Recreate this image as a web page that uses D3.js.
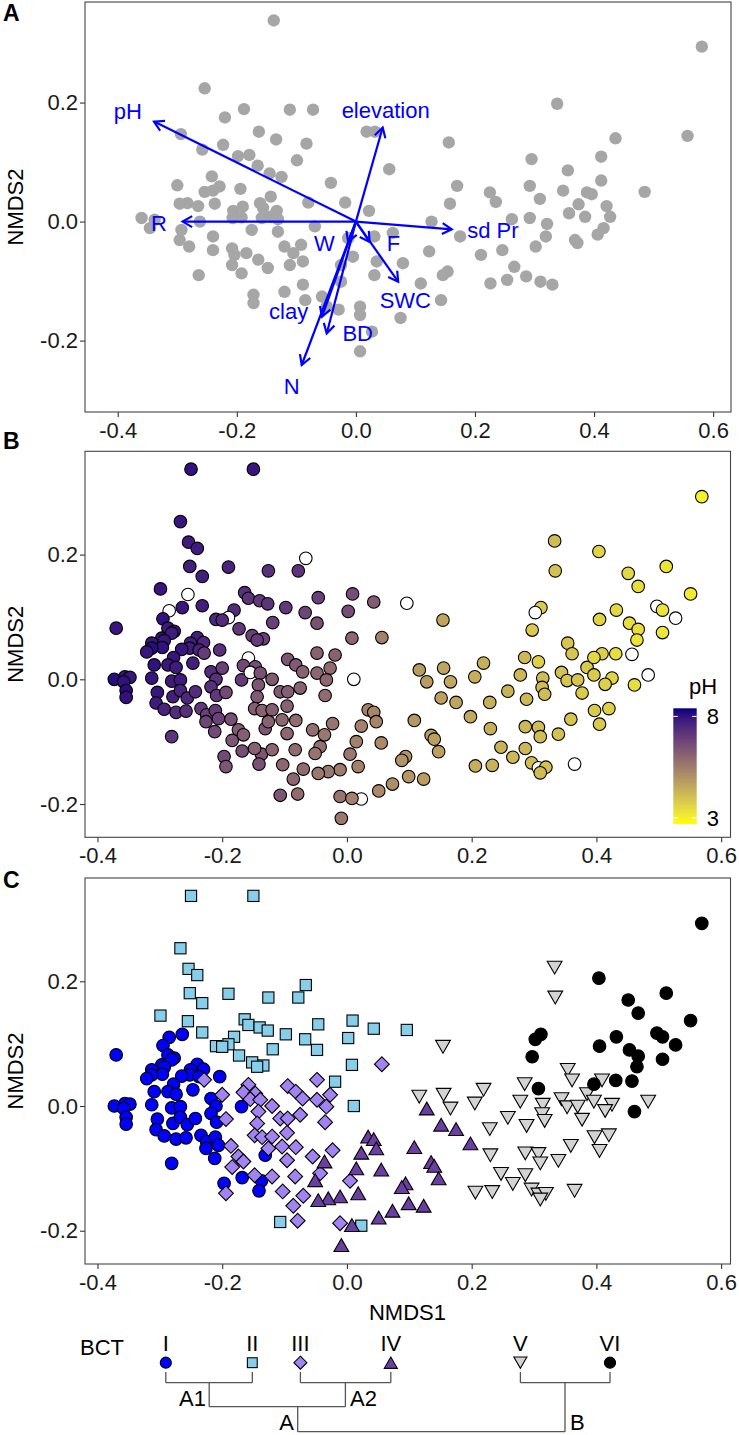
<!DOCTYPE html>
<html><head><meta charset="utf-8">
<script src="https://cdn.jsdelivr.net/npm/d3@7"></script>
<style>
body{margin:0;background:#fff;}
svg text{font-family:"Liberation Sans",Arial,Helvetica,sans-serif;}
</style>
</head><body>
<svg id="c" width="739" height="1435"></svg>
<script>
// ---------------- DATA ----------------
// Panel A: sites used for the environmental fitting (NMDS1, NMDS2)
const envfitSites = [
[-0.138,0.338],[-0.254,0.224],[-0.188,0.189],[-0.111,0.188],[-0.072,0.188],[-0.220,0.175],
[0.018,0.151],[0.032,0.151],[-0.294,0.147],[-0.163,0.151],[-0.134,0.138],[-0.083,0.131],
[-0.223,0.129],[-0.258,0.121],[-0.198,0.110],[-0.179,0.112],[-0.099,0.103],[-0.165,0.094],
[-0.145,0.081],[-0.125,0.075],[-0.242,0.076],[-0.300,0.061],[-0.229,0.059],[-0.194,0.055],
[-0.254,0.050],[-0.240,0.052],[-0.042,0.065],[-0.143,0.042],[-0.161,0.031],[-0.080,0.032],
[-0.018,0.032],[-0.296,0.030],[-0.283,0.031],[-0.265,0.026],[-0.237,0.030],[-0.206,0.018],
[-0.190,0.025],[-0.156,0.023],[-0.133,0.018],[-0.207,0.006],[-0.192,0.007],[-0.158,0.006],
[-0.143,0.008],[-0.131,0.004],[-0.360,0.006],[-0.338,0.003],[-0.346,-0.011],[-0.293,-0.014],
[-0.262,0.000],[-0.175,-0.014],[-0.131,-0.017],[-0.069,-0.008],[-0.240,-0.025],
[0.581,0.294],[0.338,0.198],[0.557,0.144],[0.436,0.140],[0.156,0.133],[0.412,0.109],
[0.295,0.105],[0.056,0.088],[0.356,0.086],[0.412,0.069],[0.170,0.060],[0.292,0.060],
[0.485,0.050],[0.348,0.052],[0.388,0.049],[0.396,0.046],[0.225,0.049],[0.309,0.038],
[0.235,0.033],[0.158,0.030],[0.374,0.029],[0.421,0.026],[0.022,0.018],[0.358,0.014],
[0.385,0.008],[0.427,0.008],[0.127,0.000],[0.262,0.004],[0.292,0.006],[0.321,-0.004],
[0.416,-0.011],[0.062,-0.019],[0.175,-0.025],[0.319,-0.025],[0.368,-0.031],[0.406,-0.022],
[-0.296,-0.031],[-0.280,-0.042],[-0.240,-0.048],[-0.208,-0.045],[-0.204,-0.056],[-0.184,-0.053],
[-0.164,-0.064],[-0.208,-0.073],[-0.192,-0.087],[-0.148,-0.078],[-0.120,-0.042],[-0.105,-0.053],
[-0.092,-0.039],[-0.111,-0.073],[-0.089,-0.067],[-0.264,-0.090],[-0.013,-0.028],[-0.005,-0.059],
[-0.025,-0.073],[0.031,-0.025],[0.035,-0.067],[0.079,-0.070],[0.031,-0.090],[-0.025,-0.101],
[-0.089,-0.106],[-0.120,-0.118],[-0.172,-0.123],[-0.172,-0.137],[-0.085,-0.132],[-0.057,-0.126],
[-0.049,-0.143],[-0.029,-0.148],[0.007,-0.143],[0.007,-0.157],[0.027,-0.185],[0.075,-0.162],
[0.123,-0.050],[0.109,-0.104],[0.143,-0.132],[0.146,-0.090],[0.154,-0.084],[0.007,-0.218],
[0.210,-0.056],[0.226,-0.104],[0.246,-0.048],[0.254,-0.098],[0.266,-0.076],[0.286,-0.092],
[0.302,-0.042],[0.310,-0.101],[0.330,-0.106],[0.372,-0.036]
];

// Panels B and C: all sites by BCT group: [NMDS1, NMDS2, soil pH] (null = pH missing)
const bctI = [
[-0.370,0.082,7.9],[-0.285,0.110,null],[-0.264,0.115,7.9],[-0.295,0.097,8.0],[-0.287,0.082,7.8],
[-0.277,0.077,7.9],[-0.240,0.067,7.7],[-0.297,0.066,8.0],[-0.313,0.058,7.9],[-0.251,0.058,7.7],
[-0.230,0.059,7.5],[-0.281,0.074,7.8],[-0.293,0.062,7.9],[-0.296,0.051,8.0],[-0.313,0.050,8.1],
[-0.321,0.044,7.9],[-0.252,0.050,7.8],[-0.265,0.048,7.9],[-0.237,0.047,7.6],[-0.278,0.035,7.9],
[-0.204,0.047,7.3],[-0.247,0.026,7.7],[-0.309,0.023,8.0],[-0.287,0.023,7.9],[-0.274,0.019,7.8],
[-0.373,0.000,8.1],[-0.356,0.004,8.0],[-0.348,0.003,7.9],[-0.358,-0.004,8.0],[-0.354,-0.018,8.1],
[-0.354,-0.029,8.0],[-0.313,0.002,7.9],[-0.281,-0.003,7.8],[-0.267,-0.001,7.8],[-0.304,-0.021,7.9],
[-0.279,-0.028,7.7],[-0.267,-0.018,7.6],[-0.256,-0.030,7.5],[-0.243,-0.020,7.4],[-0.306,-0.038,7.8],
[-0.293,-0.048,7.6],[-0.274,-0.053,7.4],[-0.258,-0.051,7.3],[-0.234,-0.047,7.1],[-0.225,-0.057,6.9],
[-0.211,-0.050,7.0],[-0.226,-0.068,6.8],[-0.206,-0.063,6.9],[-0.212,-0.084,6.7],[-0.281,-0.092,7.2],
[-0.218,0.012,7.4],[-0.210,0.000,7.3],[-0.218,-0.012,7.3],[-0.209,-0.026,7.1],[-0.169,-0.001,7.0],
[-0.131,-0.079,6.4],[-0.168,-0.115,6.6],[-0.137,-0.120,6.4],[-0.141,-0.136,6.5],[-0.197,-0.124,6.7]
];
const bctII = [
[-0.250,0.337,8.0],[-0.150,0.337,7.9],[-0.267,0.253,7.9],[-0.254,0.220,7.8],[-0.240,0.210,7.8],
[-0.252,0.181,7.7],[-0.190,0.180,7.6],[-0.126,0.174,7.3],[-0.232,0.165,7.7],[-0.299,0.145,7.9],
[-0.255,0.136,null],[-0.232,0.118,7.7],[-0.164,0.139,7.3],[-0.158,0.130,7.2],[-0.140,0.126,7.1],
[-0.127,0.121,7.2],[-0.181,0.111,7.4],[-0.190,0.099,null],[-0.210,0.096,7.5],[-0.200,0.095,7.4],
[-0.173,0.081,7.1],[-0.119,0.091,6.9],[-0.152,0.070,6.9],[-0.134,0.065,6.9],[-0.144,0.063,7.0],
[-0.066,0.194,null],[-0.078,0.174,7.2],[0.009,0.137,6.6],[-0.046,0.131,6.9],[0.043,0.124,6.3],
[0.096,0.122,null],[-0.098,0.115,7.1],[-0.067,0.107,6.8],[0.002,0.109,6.6],[-0.048,0.090,6.5],
[0.008,0.066,6.0],[-0.019,0.039,6.1],[0.011,0.000,null],[-0.107,-0.186,6.4],[0.023,-0.192,null]
];
const bctIII = [
[-0.200,0.018,6.9],[-0.194,-0.021,6.7],[-0.158,0.034,null],[-0.166,0.022,6.7],[-0.147,0.020,6.6],
[-0.155,0.011,null],[-0.139,0.010,6.5],[-0.120,0.000,6.3],[-0.142,-0.009,6.4],[-0.144,-0.028,6.3],
[-0.148,-0.047,6.2],[-0.136,-0.050,6.1],[-0.120,-0.049,6.2],[-0.126,-0.068,6.1],[-0.186,-0.064,6.5],
[-0.174,-0.081,6.3],[-0.166,-0.089,6.2],[-0.184,-0.098,6.4],[-0.148,-0.111,6.1],[-0.120,-0.113,6.0],
[-0.194,-0.140,6.4],[-0.229,0.042,7.0],[0.056,0.067,5.4],[-0.048,0.042,6.1],[-0.095,0.032,6.4],
[-0.082,0.023,6.3],[-0.071,0.012,6.1],[-0.048,0.010,6.0],[-0.027,0.018,5.9],[-0.033,-0.001,6.0],
[-0.075,-0.014,6.1],[-0.107,-0.020,6.3],[-0.095,-0.020,6.2],[-0.035,-0.026,5.9],[-0.096,-0.043,6.1],
[-0.104,-0.065,6.0],[-0.082,-0.066,5.9],[-0.096,-0.087,6.0],[-0.055,-0.081,5.8],[-0.023,-0.071,5.7],
[-0.083,-0.113,5.9],[-0.103,-0.137,6.0],[-0.070,-0.144,5.9],[-0.086,-0.160,6.0],[-0.079,-0.184,5.9],
[-0.011,-0.188,5.7],[0.005,-0.120,5.6],[-0.043,-0.108,5.8]
];
const bctIV = [
[0.128,-0.004,4.8],[0.151,-0.030,4.7],[0.175,-0.037,4.6],[0.034,-0.049,5.4],[0.043,-0.053,5.3],
[0.047,-0.068,5.3],[0.023,-0.075,5.4],[0.108,-0.066,4.9],[0.135,-0.090,4.8],[0.140,-0.096,4.7],
[0.147,-0.116,4.7],[-0.036,-0.089,5.6],[-0.051,-0.119,5.7],[0.015,-0.100,5.4],[0.055,-0.102,5.2],
[0.094,-0.124,5.0],[0.088,-0.130,5.0],[0.018,-0.140,5.4],[-0.011,-0.145,5.5],[-0.030,-0.148,5.6],
[-0.046,-0.151,5.6],[0.099,-0.156,4.9],[0.123,-0.160,4.8],[0.073,-0.168,5.1],[0.051,-0.179,5.2],
[0.008,-0.191,5.4],[-0.009,-0.223,5.6],[0.198,-0.060,4.5]
];
const bctV = [
[0.154,0.095,4.6],[0.116,0.015,4.8],[0.155,0.018,4.6],[0.166,-0.004,4.5],[0.333,0.222,4.1],
[0.334,0.174,4.0],[0.354,0.058,3.9],[0.361,0.041,3.9],[0.409,0.041,3.7],[0.219,0.026,4.4],
[0.285,0.035,4.2],[0.205,0.004,4.4],[0.278,0.007,4.2],[0.314,0.002,4.1],[0.344,0.011,4.0],
[0.385,0.019,3.8],[0.396,0.007,3.8],[0.353,-0.002,3.9],[0.370,-0.001,3.9],[0.425,0.002,3.6],
[0.414,-0.008,3.7],[0.483,0.007,null],[0.258,-0.019,4.3],[0.313,-0.013,4.1],[0.317,-0.024,4.1],
[0.377,-0.022,3.8],[0.288,-0.032,4.2],[0.229,-0.037,4.4],[0.397,-0.050,3.8],[0.420,-0.047,3.7],
[0.359,-0.064,3.9],[0.405,-0.072,3.8],[0.230,-0.079,4.4],[0.286,-0.076,4.2],[0.307,-0.077,4.1],
[0.310,-0.092,4.1],[0.339,-0.088,4.0],[0.247,-0.109,4.3],[0.286,-0.111,4.2],[0.266,-0.125,4.2],
[0.296,-0.134,4.1],[0.206,-0.139,4.4],[0.233,-0.138,4.3],[0.307,-0.142,null],[0.319,-0.141,4.0],
[0.365,-0.136,null],[0.310,-0.150,4.1]
];
const bctVI = [
[0.569,0.293,3.0],[0.404,0.205,3.6],[0.512,0.181,3.3],[0.451,0.170,3.5],[0.467,0.149,3.4],
[0.551,0.137,3.1],[0.311,0.115,3.8],[0.302,0.107,null],[0.432,0.111,3.5],[0.497,0.117,null],
[0.506,0.111,3.3],[0.527,0.098,null],[0.405,0.096,3.6],[0.453,0.090,3.4],[0.467,0.080,3.4],
[0.297,0.079,3.8],[0.506,0.075,3.2],[0.465,0.063,3.3],[0.307,0.028,3.7],[0.396,0.035,3.5],
[0.431,0.041,3.4],[0.457,0.040,null],[0.461,-0.009,3.4]
];
const groups = [bctI, bctII, bctIII, bctIV, bctV, bctVI];
const groupNames = ["I","II","III","IV","V","VI"];
const groupShapes = ["circle","square","diamond","up","down","circle"];
const groupFills = ["#0000ff","#87ceeb","#a283f2","#6b3fa1","#d3d3d3","#000000"];

// environmental fitting vectors (panel A)
const envNames = ["pH","R","elevation","sd Pr","W","F","SWC","clay","BD","N"];
const envX = [-0.339,-0.291,0.045,0.161,-0.013,0.023,0.071,-0.057,-0.049,-0.091];
const envY = [0.168,0.000,0.158,-0.013,-0.034,-0.034,-0.101,-0.160,-0.188,-0.241];
const envLabelX = [-0.383,-0.331,0.050,0.230,-0.053,0.063,0.083,-0.113,0.003,-0.108];
const envLabelY = [0.186,-0.002,0.188,-0.014,-0.036,-0.036,-0.132,-0.150,-0.188,-0.277];

const xTicks = [-0.4,-0.2,0,0.2,0.4,0.6];
const xTickLabels = ["-0.4","-0.2","0.0","0.2","0.4","0.6"];
const yTicks = [-0.2,0,0.2];
const yTickLabels = ["-0.2","0.0","0.2"];
const phLimits = [2.7, 8.4];
const phBreaks = [3, 8];

// ---------------- DRAWING ----------------
const svg = d3.select("#c");
const FONT = 22;
const allPts = groups.flatMap((g,gi)=>g.map(p=>({x:p[0],y:p[1],ph:p[2],g:gi})));

function makePanel(box, xd, yd, letter, letterY){
  const x = d3.scaleLinear().domain(xd).range([box.l, box.r]);
  const y = d3.scaleLinear().domain(yd).range([box.b, box.t]);
  const ax = svg.append("g").attr("transform",`translate(0,${box.b})`)
    .call(d3.axisBottom(x).tickValues(xTicks).tickFormat((d,i)=>xTickLabels[i]).tickSize(5).tickPadding(5));
  const ay = svg.append("g").attr("transform",`translate(${box.l},0)`)
    .call(d3.axisLeft(y).tickValues(yTicks).tickFormat((d,i)=>yTickLabels[i]).tickSize(5).tickPadding(2));
  [ax,ay].forEach(a=>{
    a.select(".domain").remove();
    a.selectAll("line").attr("stroke","#333").attr("stroke-width",1.1);
    a.selectAll("text").attr("font-size",FONT).attr("fill","#1a1a1a")
      .attr("font-family","Liberation Sans, Arial, sans-serif");
  });
  svg.append("text").attr("transform",`translate(23,${(box.t+box.b)/2}) rotate(-90)`)
    .attr("text-anchor","middle").attr("font-size",FONT).text("NMDS2");
  svg.append("text").attr("x",3).attr("y",letterY).attr("font-size",23)
    .attr("font-weight","bold").text(letter);
  const layer = svg.append("g");
  const border = ()=>svg.append("rect").attr("x",box.l).attr("y",box.t)
    .attr("width",box.r-box.l).attr("height",box.b-box.t)
    .attr("fill","none").attr("stroke","#444").attr("stroke-width",1.1);
  return {x,y,layer,border};
}

function drawShape(g, type, cx, cy, fill, k){
  k = k||1;
  const common = s=>s.attr("fill",fill).attr("stroke","#000").attr("stroke-width",1.1);
  if(type==="circle"){
    common(g.append("circle").attr("cx",cx).attr("cy",cy).attr("r",6.3*k));
  } else if(type==="square"){
    const h=5.6*k;
    common(g.append("rect").attr("x",cx-h).attr("y",cy-h).attr("width",2*h).attr("height",2*h));
  } else if(type==="diamond"){
    const h=7.4*k;
    common(g.append("path").attr("d",`M${cx},${cy-h}L${cx+h},${cy}L${cx},${cy+h}L${cx-h},${cy}Z`));
  } else if(type==="up"){
    const w=7.4*k, h=6.4*k;
    common(g.append("path").attr("d",`M${cx},${cy-h}L${cx+w},${cy+h}L${cx-w},${cy+h}Z`));
  } else {
    const w=7.4*k, h=6.4*k;
    common(g.append("path").attr("d",`M${cx},${cy+h}L${cx+w},${cy-h}L${cx-w},${cy-h}Z`));
  }
}

// ---- Panel A ----
const A = makePanel({l:85,r:731,t:2,b:412}, [-0.455,0.630], [-0.320,0.369], "A", 21);
A.layer.selectAll("circle").data(envfitSites).join("circle")
  .attr("cx",d=>A.x(d[0])).attr("cy",d=>A.y(d[1])).attr("r",6.2).attr("fill","#a6a6a6");
const arrowG = svg.append("g");
envNames.forEach((n,i)=>{
  const x0=A.x(0), y0=A.y(0), x1=A.x(envX[i]), y1=A.y(envY[i]);
  arrowG.append("line").attr("x1",x0).attr("y1",y0).attr("x2",x1).attr("y2",y1)
    .attr("stroke","#0000ff").attr("stroke-width",2.2);
  const a = Math.atan2(y1-y0,x1-x0), L=11, w=Math.PI/6;
  const p1=[x1-L*Math.cos(a-w), y1-L*Math.sin(a-w)], p2=[x1-L*Math.cos(a+w), y1-L*Math.sin(a+w)];
  arrowG.append("path").attr("d",`M${p1}L${x1},${y1}L${p2}`).attr("fill","none")
    .attr("stroke","#0000ff").attr("stroke-width",2.2);
  arrowG.append("text").attr("x",A.x(envLabelX[i])).attr("y",A.y(envLabelY[i])).attr("dy","0.36em")
    .attr("text-anchor","middle").attr("fill","#0000ff").attr("font-size",FONT).text(n);
});
A.border();

// ---- Panel B ----
const phColor = d3.scaleLinear().domain(phLimits).range(["#ffff00","#000080"]).interpolate(d3.interpolateLab);
const B = makePanel({l:85,r:730.5,t:451.3,b:837.3}, [-0.420,0.615], [-0.2534,0.3657], "B", 449);
allPts.forEach(d=>{
  B.layer.append("circle").attr("cx",B.x(d.x)).attr("cy",B.y(d.y)).attr("r",6.3)
    .attr("fill", d.ph==null ? "#ffffff" : phColor(d.ph)).attr("stroke","#000").attr("stroke-width",1.1);
});
B.border();
// colorbar legend
const cb = {x:673.3, w:23.4, t:708.3, b:824};
const grad = svg.append("defs").append("linearGradient").attr("id","phg")
  .attr("x1",0).attr("y1",1).attr("x2",0).attr("y2",0);
d3.range(0,1.0001,0.05).forEach(t=>{
  grad.append("stop").attr("offset",t).attr("stop-color",phColor(phLimits[0]+t*(phLimits[1]-phLimits[0])));
});
svg.append("rect").attr("x",cb.x).attr("y",cb.t).attr("width",cb.w).attr("height",cb.b-cb.t).attr("fill","url(#phg)");
const cbY = d3.scaleLinear().domain(phLimits).range([cb.b,cb.t]);
phBreaks.forEach(v=>{
  const yy=cbY(v);
  svg.append("line").attr("x1",cb.x).attr("x2",cb.x+4.5).attr("y1",yy).attr("y2",yy).attr("stroke","#fff").attr("stroke-width",1);
  svg.append("line").attr("x1",cb.x+cb.w-4.5).attr("x2",cb.x+cb.w).attr("y1",yy).attr("y2",yy).attr("stroke","#fff").attr("stroke-width",1);
  svg.append("text").attr("x",cb.x+cb.w+10).attr("y",yy).attr("dy","0.36em").attr("font-size",FONT).text(v);
});
svg.append("text").attr("x",689).attr("y",694).attr("font-size",FONT).text("pH");

// ---- Panel C ----
const C = makePanel({l:85,r:730.5,t:878,b:1264}, [-0.420,0.615], [-0.2534,0.3657], "C", 888);
groups.forEach((g,gi)=>{
  g.forEach(p=>drawShape(C.layer, groupShapes[gi], C.x(p[0]), C.y(p[1]), groupFills[gi]));
});
C.border();
svg.append("text").attr("x",407.5).attr("y",1320).attr("text-anchor","middle").attr("font-size",FONT).text("NMDS1");

// ---- BCT legend with dendrogram ----
const legX = [165.8,252.3,300.4,390.8,520.4,610];
const legSymY = 1362.7;
svg.append("text").attr("x",102).attr("y",1355).attr("text-anchor","middle").attr("font-size",FONT).text("BCT");
const dg = svg.append("g").attr("stroke","#555").attr("stroke-width",1.3).attr("fill","none");
groupNames.forEach((n,i)=>{
  svg.append("text").attr("x",legX[i]).attr("y",1351).attr("text-anchor","middle").attr("font-size",FONT).text(n);
  drawShape(svg, groupShapes[i], legX[i], legSymY, groupFills[i], 0.88);
  dg.append("line").attr("x1",legX[i]).attr("x2",legX[i]).attr("y1",1372).attr("y2",1382.7);
});
const yb1=1382.7, yb2=1406.7, yb3=1431.7;
const jA1=209.2, jA2=345.4, jA=297.7, jB=565;
[[0,1],[2,3],[4,5]].forEach(([a,b])=>dg.append("line").attr("x1",legX[a]).attr("x2",legX[b]).attr("y1",yb1).attr("y2",yb1));
dg.append("line").attr("x1",jA1).attr("x2",jA1).attr("y1",yb1).attr("y2",yb2);
dg.append("line").attr("x1",jA2).attr("x2",jA2).attr("y1",yb1).attr("y2",yb2);
dg.append("line").attr("x1",jA1).attr("x2",jA2).attr("y1",yb2).attr("y2",yb2);
dg.append("line").attr("x1",jA).attr("x2",jA).attr("y1",yb2).attr("y2",yb3);
dg.append("line").attr("x1",jB).attr("x2",jB).attr("y1",yb1).attr("y2",yb3);
dg.append("line").attr("x1",jA).attr("x2",jB).attr("y1",yb3).attr("y2",yb3);
svg.append("text").attr("x",206).attr("y",1406).attr("text-anchor","end").attr("font-size",FONT).text("A1");
svg.append("text").attr("x",350).attr("y",1406).attr("font-size",FONT).text("A2");
svg.append("text").attr("x",294).attr("y",1430).attr("text-anchor","end").attr("font-size",FONT).text("A");
svg.append("text").attr("x",570).attr("y",1430).attr("font-size",FONT).text("B");
</script>
</body></html>
